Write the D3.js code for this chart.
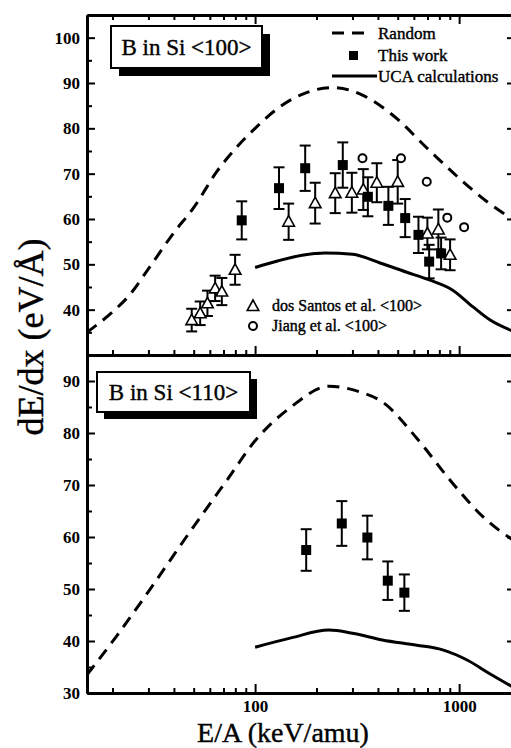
<!DOCTYPE html>
<html>
<head>
<meta charset="utf-8">
<script src="https://cdn.jsdelivr.net/npm/d3@7"></script>
<style>
  body { margin: 0; background: #fff; }
  svg { display: block; }
  svg text { font-family: "Liberation Serif", "Times New Roman", Times, "DejaVu Serif", serif; }
  .heavy { stroke: #000; stroke-width: 0.4px; }
</style>
</head>
<body>
<div id="chart"></div>
<script>
// tick values
const xMajor = [100, 1000];
const xMinor = [20, 30, 40, 50, 60, 70, 80, 90, 200, 300, 400, 500, 600, 700, 800, 900];
const yTopMajor = [40, 50, 60, 70, 80, 90, 100];
const yTopMinor = [35, 45, 55, 65, 75, 85, 95];
const yBotMajor = [30, 40, 50, 60, 70, 80, 90];
const yBotMinor = [35, 45, 55, 65, 75, 85];

// <100> panel
const randomTopE = [15, 20, 24, 30, 40, 50, 65, 80, 100, 130, 170, 240, 330, 470, 720, 1000, 1400, 1900];
const randomTopV = [35, 39.5, 43, 49, 57, 62.5, 70.5, 75.5, 80, 84.5, 87.5, 89, 87.5, 83, 75, 69, 63.5, 59.5];
const ucaTopE = [100, 130, 170, 220, 300, 410, 550, 720, 930, 1170, 1420, 1900];
const ucaTopV = [49.3, 50.8, 52, 52.5, 52.2, 50.3, 48.3, 46.5, 44.3, 40.6, 37.7, 35];

const workTopE = [86, 131, 176, 269, 357, 450, 544, 632, 713, 816];
const workTopV = [59.7, 66.8, 71.2, 71.9, 64.9, 62.9, 60.2, 56.5, 50.6, 52.4];
const workTopErr = [4.2, 4.6, 5, 5, 4.3, 4.2, 4.2, 4, 3.7, 3.5];

const santosE = [48.9, 53.8, 58.4, 63.7, 68.7, 79.8, 146, 197, 247, 298, 339, 395, 500, 699, 791, 903];
const santosV = [37.7, 39.2, 41.4, 44.7, 44, 48.8, 59.4, 63.5, 65.7, 65.8, 66.5, 68, 68.2, 56.8, 57.7, 52.1];
const santosErr = [2.5, 2.6, 2.8, 2.8, 3, 3.3, 4, 4.5, 4.4, 4.4, 4.5, 4.3, 4.8, 3.5, 4.4, 3.4];

const jiangE = [336, 519, 694, 875, 1058];
const jiangV = [73.4, 73.4, 68.2, 60.3, 58.2];

// <110> panel
const randomBotE = [15, 21, 30, 46, 73, 100, 150, 230, 320, 420, 620, 900, 1300, 1900];
const randomBotV = [33.5, 41, 49.5, 60, 71, 78.5, 85, 89, 88, 86, 79, 71, 64, 59];
const ucaBotE = [100, 150, 230, 300, 420, 620, 830, 1100, 1400, 1900];
const ucaBotV = [38.8, 40.6, 42.1, 41.5, 40.2, 39.2, 38.3, 36.3, 33.8, 30.8];

const workBotE = [178, 266, 355, 447, 539];
const workBotV = [57.5, 62.6, 59.9, 51.6, 49.3];
const workBotErr = [4, 4.3, 4.2, 3.7, 3.5];

const SERIF = '"Liberation Serif", "Times New Roman", Times, "DejaVu Serif", serif';
const W = 511, H = 748;
const left = 87, right = 516;
const topY0 = 15, sepY = 355, botY1 = 693;

const svg = d3.select('#chart').append('svg')
    .attr('width', W).attr('height', H)
    .attr('font-family', SERIF);

svg.append('rect').attr('width', W).attr('height', H).attr('fill', '#fff');

const x = d3.scaleLog().domain([15, 1900]).range([left, right]);
const yTop = d3.scaleLinear().domain([30, 105]).range([sepY, topY0]);
const yBot = d3.scaleLinear().domain([30, 95]).range([botY1, sepY]);

const zip = (a, b, c) => a.map((v, i) => ({ e: v, v: b[i], err: c ? c[i] : 0 }));

// clip areas
const defs = svg.append('defs');
defs.append('clipPath').attr('id', 'clipTop').append('rect')
    .attr('x', left).attr('y', topY0).attr('width', right - left).attr('height', sepY - topY0);
defs.append('clipPath').attr('id', 'clipBot').append('rect')
    .attr('x', left).attr('y', sepY).attr('width', right - left).attr('height', botY1 - sepY);

const styleAxis = (g, width) => {
    g.attr('font-family', SERIF);
    g.select('.domain').attr('stroke', '#000').attr('stroke-width', width);
    g.selectAll('.tick line').attr('stroke', '#000').attr('stroke-width', 2);
    g.selectAll('.tick text')
        .attr('fill', '#000')
        .attr('font-family', SERIF)
        .attr('font-weight', 'bold')
        .attr('font-size', '17px');
};

const drawPanel = (y, majors, minors) => {
    // left axis
    const gl = svg.append('g').attr('transform', `translate(${left},0)`)
        .call(d3.axisLeft(y).tickValues(majors).tickSizeInner(-8).tickSizeOuter(0).tickPadding(7).tickFormat(d3.format('d')));
    styleAxis(gl, 3);
    const glm = svg.append('g').attr('transform', `translate(${left},0)`)
        .call(d3.axisLeft(y).tickValues(minors).tickSizeInner(-5).tickSizeOuter(0).tickFormat(''));
    styleAxis(glm, 3);

    // right axis (only major ticks reach into view)
    const gr = svg.append('g').attr('transform', `translate(${right},0)`)
        .call(d3.axisRight(y).tickValues(majors).tickSizeInner(-9).tickSizeOuter(0).tickFormat(''));
    styleAxis(gr, 3);
};

drawPanel(yTop, yTopMajor, yTopMinor);
drawPanel(yBot, yBotMajor, yBotMinor);

// x axes: top of upper panel, separator, bottom of lower panel
const xAxisAt = (yPos, dir, labels) => {
    const mk = dir === 'down' ? d3.axisTop : d3.axisBottom;
    const g = svg.append('g').attr('transform', `translate(0,${yPos})`)
        .call(mk(x).tickValues(xMajor).tickSizeInner(-9).tickSizeOuter(0).tickPadding(7)
            .tickFormat(labels ? d3.format('d') : ''));
    styleAxis(g, 3);
    const gm = svg.append('g').attr('transform', `translate(0,${yPos})`)
        .call(mk(x).tickValues(xMinor).tickSizeInner(-5).tickSizeOuter(0).tickFormat(''));
    styleAxis(gm, 3);
    return g;
};
xAxisAt(topY0, 'down', false);
xAxisAt(sepY, 'up', false);
xAxisAt(botY1, 'up', true);

// curves
const drawCurve = (es, vs, y, clipId, dashed) => {
    const line = d3.line()
        .x(d => x(d.e)).y(d => y(d.v))
        .curve(d3.curveMonotoneX);
    svg.append('path')
        .datum(zip(es, vs))
        .attr('clip-path', `url(#${clipId})`)
        .attr('d', line)
        .attr('fill', 'none')
        .attr('stroke', '#000')
        .attr('stroke-width', 3)
        .attr('stroke-dasharray', dashed ? '12,8' : null);
};
drawCurve(randomTopE, randomTopV, yTop, 'clipTop', true);
drawCurve(ucaTopE, ucaTopV, yTop, 'clipTop', false);
drawCurve(randomBotE, randomBotV, yBot, 'clipBot', true);
drawCurve(ucaBotE, ucaBotV, yBot, 'clipBot', false);

// error bars
const drawErr = (data, y) => {
    const g = svg.append('g').attr('stroke', '#000').attr('stroke-width', 2);
    data.forEach(d => {
        const cx = x(d.e), y1 = y(d.v - d.err), y2 = y(d.v + d.err);
        g.append('line').attr('x1', cx).attr('x2', cx).attr('y1', y1).attr('y2', y2);
        g.append('line').attr('x1', cx - 5.5).attr('x2', cx + 5.5).attr('y1', y1).attr('y2', y1);
        g.append('line').attr('x1', cx - 5.5).attr('x2', cx + 5.5).attr('y1', y2).attr('y2', y2);
    });
};

const triPath = (cx, cy, s) => `M${cx},${cy - s * 0.6}L${cx + s * 0.58},${cy + s * 0.45}L${cx - s * 0.58},${cy + s * 0.45}Z`;

const santos = zip(santosE, santosV, santosErr);
const workTop = zip(workTopE, workTopV, workTopErr);
const workBot = zip(workBotE, workBotV, workBotErr);

drawErr(santos, yTop);
drawErr(workTop, yTop);
drawErr(workBot, yBot);

svg.append('g').selectAll('path').data(santos).enter().append('path')
    .attr('d', d => triPath(x(d.e), yTop(d.v), 10))
    .attr('fill', '#fff').attr('stroke', '#000').attr('stroke-width', 1.6);

svg.append('g').selectAll('circle').data(zip(jiangE, jiangV)).enter().append('circle')
    .attr('cx', d => x(d.e)).attr('cy', d => yTop(d.v)).attr('r', 4)
    .attr('fill', '#fff').attr('stroke', '#000').attr('stroke-width', 2);

[[workTop, yTop], [workBot, yBot]].forEach(([data, y]) => {
    svg.append('g').selectAll('rect').data(data).enter().append('rect')
        .attr('x', d => x(d.e) - 5).attr('y', d => y(d.v) - 5)
        .attr('width', 10).attr('height', 10).attr('fill', '#000');
});

// panel labels with drop shadow
const labelBox = (bx, by, bw, bh, off, text) => {
    svg.append('rect').attr('x', bx + off).attr('y', by + off).attr('width', bw).attr('height', bh).attr('fill', '#000');
    svg.append('rect').attr('x', bx).attr('y', by).attr('width', bw).attr('height', bh)
        .attr('fill', '#fff').attr('stroke', '#000').attr('stroke-width', 2);
    svg.append('text').attr('class', 'heavy').attr('x', bx + bw / 2).attr('y', by + bh / 2 + 8)
        .attr('text-anchor', 'middle').attr('font-size', '23px').text(text);
};
labelBox(111, 26, 151, 42, 8, 'B in Si <100>');
labelBox(97, 372, 153, 40, 7, 'B in Si <110>');

// legend upper right
const lg = svg.append('g');
lg.append('line').attr('x1', 332).attr('x2', 364).attr('y1', 33).attr('y2', 33)
    .attr('stroke', '#000').attr('stroke-width', 3).attr('stroke-dasharray', '12,8');
lg.append('rect').attr('x', 349).attr('y', 51).attr('width', 9).attr('height', 9).attr('fill', '#000');
lg.append('line').attr('x1', 332).attr('x2', 377).attr('y1', 76).attr('y2', 76)
    .attr('stroke', '#000').attr('stroke-width', 3);
[['Random', 33], ['This work', 55], ['UCA calculations', 76]].forEach(([t, yy]) => {
    lg.append('text').attr('class', 'heavy').attr('x', 378).attr('y', yy + 6).attr('font-size', '17px').text(t);
});

// legend lower left
svg.append('path').attr('d', triPath(253, 306, 10))
    .attr('fill', '#fff').attr('stroke', '#000').attr('stroke-width', 1.6);
svg.append('circle').attr('cx', 253).attr('cy', 326).attr('r', 4)
    .attr('fill', '#fff').attr('stroke', '#000').attr('stroke-width', 2);
svg.append('text').attr('class', 'heavy').attr('x', 272).attr('y', 311).attr('font-size', '16px').text('dos Santos et al. <100>');
svg.append('text').attr('class', 'heavy').attr('x', 272).attr('y', 331).attr('font-size', '16px').text('Jiang et al. <100>');

// axis titles
svg.append('text').attr('class', 'heavy')
    .attr('transform', 'translate(43,337) rotate(-90)')
    .attr('text-anchor', 'middle').attr('font-size', '36px')
    .text('dE/dx (eV/Å)');
svg.append('text').attr('class', 'heavy')
    .attr('x', 283).attr('y', 742)
    .attr('text-anchor', 'middle').attr('font-size', '28px')
    .text('E/A (keV/amu)');
</script>
</body>
</html>
